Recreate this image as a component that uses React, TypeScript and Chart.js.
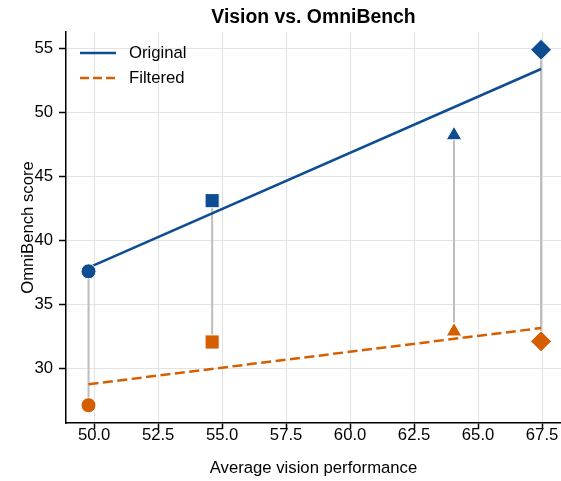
import React, { useEffect, useRef } from 'react';
import { Chart, registerables } from 'chart.js';

Chart.register(...registerables);

// ---- data ----
const models = ['Model A', 'Model B', 'Model C', 'Model D'];
const visionPerf = [49.78, 54.61, 64.06, 67.46];
const originalScores = [37.62, 43.14, 48.25, 54.93];
const filteredScores = [27.16, 32.1, 32.92, 32.15];
const xTickValues = [50, 52.5, 55, 57.5, 60, 62.5, 65, 67.5];
const yTickValues = [30, 35, 40, 45, 50, 55];
const seriesNames = ['Original', 'Filtered'];

// ---- styles ----
const BLUE = '#0F4D92';
const ORANGE = '#D55E00';
const GREY = '#bdbdbd';
const FONT = "'Liberation Sans', Arial, Helvetica, sans-serif";
const FS = 16.7;
const markerStyles = ['circle', 'rect', 'triangle', 'rectRot'];
const markerRadii = [7.5, 10, 9, 10.5];

function fit(xs: number[], ys: number[]) {
  const n = xs.length;
  const mx = xs.reduce((a, b) => a + b, 0) / n;
  const my = ys.reduce((a, b) => a + b, 0) / n;
  let sxy = 0;
  let sxx = 0;
  for (let i = 0; i < n; i++) {
    sxy += (xs[i] - mx) * (ys[i] - my);
    sxx += (xs[i] - mx) * (xs[i] - mx);
  }
  const slope = sxy / sxx;
  const x0 = Math.min(...xs);
  const x1 = Math.max(...xs);
  return [
    { x: x0, y: my + slope * (x0 - mx) },
    { x: x1, y: my + slope * (x1 - mx) },
  ];
}

const legendPlugin = {
  id: 'innerLegend',
  afterDraw(chart: any) {
    const { ctx, chartArea } = chart;
    const x0 = chartArea.left + 14;
    const items = [
      { label: seriesNames[0], color: BLUE, dash: [] as number[], y: chartArea.top + 21 },
      { label: seriesNames[1], color: ORANGE, dash: [9, 4], y: chartArea.top + 46 },
    ];
    ctx.save();
    items.forEach((it) => {
      ctx.beginPath();
      ctx.setLineDash(it.dash);
      ctx.strokeStyle = it.color;
      ctx.lineWidth = 2.5;
      ctx.moveTo(x0, it.y);
      ctx.lineTo(x0 + 36, it.y);
      ctx.stroke();
      ctx.setLineDash([]);
      ctx.fillStyle = '#000';
      ctx.font = `${FS}px ${FONT}`;
      ctx.textBaseline = 'middle';
      ctx.textAlign = 'left';
      ctx.fillText(it.label, x0 + 49, it.y);
    });
    ctx.restore();
  },
};

export default function App() {
  const ref = useRef<HTMLCanvasElement | null>(null);

  useEffect(() => {
    if (!ref.current) return;
    const connectors = models.map((m, i) => ({
      label: `${m} shift`,
      data: [
        { x: visionPerf[i], y: originalScores[i] },
        { x: visionPerf[i], y: filteredScores[i] },
      ],
      showLine: true,
      borderColor: GREY,
      borderWidth: 2,
      pointRadius: 0,
      order: 3,
    }));
    const origPts = visionPerf.map((x, i) => ({ x, y: originalScores[i] }));
    const filtPts = visionPerf.map((x, i) => ({ x, y: filteredScores[i] }));

    const chart = new Chart(ref.current, {
      type: 'scatter',
      data: {
        datasets: [
          ...connectors,
          {
            label: seriesNames[0] + ' fit',
            data: fit(visionPerf, originalScores),
            showLine: true,
            borderColor: BLUE,
            borderWidth: 2.5,
            pointRadius: 0,
            order: 2,
          },
          {
            label: seriesNames[1] + ' fit',
            data: fit(visionPerf, filteredScores),
            showLine: true,
            borderColor: ORANGE,
            borderWidth: 2.5,
            borderDash: [10, 4.5],
            pointRadius: 0,
            order: 2,
          },
          {
            label: seriesNames[0],
            data: origPts,
            backgroundColor: BLUE,
            borderColor: '#ffffff',
            borderWidth: 1,
            pointStyle: markerStyles as any,
            pointRadius: markerRadii,
            order: 0,
          },
          {
            label: seriesNames[1],
            data: filtPts,
            backgroundColor: ORANGE,
            borderColor: '#ffffff',
            borderWidth: 1,
            pointStyle: markerStyles as any,
            pointRadius: markerRadii,
            order: 0,
          },
        ] as any,
      },
      options: {
        responsive: false,
        animation: false,
        events: [],
        layout: { padding: 0, autoPadding: false },
        plugins: {
          legend: { display: false },
          tooltip: { enabled: false },
          title: {
            display: true,
            fullSize: false,
            text: 'Vision vs. OmniBench',
            color: '#000',
            font: { family: FONT, size: 19.4, weight: 'bold' },
            padding: { top: 6.2, bottom: 2.5 },
          },
        },
        scales: {
          x: {
            type: 'linear',
            min: 48.9,
            max: 68.24,
            afterBuildTicks: (s: any) => {
              s.ticks = xTickValues.map((v) => ({ value: v }));
            },
            afterFit: (s: any) => {
              s.height = 58;
              s.paddingLeft = 0;
              s.paddingRight = 0;
            },
            ticks: {
              callback: (v: any) => Number(v).toFixed(1),
              color: '#000',
              font: { family: FONT, size: FS },
              padding: -4,
              maxRotation: 0,
              autoSkip: false,
            },
            grid: {
              color: '#e3e3e3',
              lineWidth: 1,
              tickColor: '#000',
              tickLength: 6,
              tickWidth: 1.5,
            },
            border: { display: true, color: '#000', width: 1.5 },
            title: {
              display: true,
              text: 'Average vision performance',
              color: '#000',
              font: { family: FONT, size: FS },
              padding: { top: 0, bottom: 2.5 },
            },
          },
          y: {
            type: 'linear',
            min: 25.77,
            max: 56.32,
            afterBuildTicks: (s: any) => {
              s.ticks = yTickValues.map((v) => ({ value: v }));
            },
            afterFit: (s: any) => {
              s.width = 66;
              s.paddingTop = 0;
              s.paddingBottom = 0;
            },
            ticks: {
              callback: (v: any) => String(v),
              color: '#000',
              font: { family: FONT, size: FS },
              padding: 6,
            },
            grid: {
              color: '#e3e3e3',
              lineWidth: 1,
              tickColor: '#000',
              tickLength: 7,
              tickWidth: 1.5,
            },
            border: { display: true, color: '#000', width: 1.5 },
            title: {
              display: true,
              text: 'OmniBench score',
              color: '#000',
              font: { family: FONT, size: FS },
              padding: { top: 18, bottom: 0 },
            },
          },
        },
      },
      plugins: [legendPlugin],
    } as any);
    return () => chart.destroy();
  }, []);

  return (
    <div style={{ position: 'absolute', left: 0, top: 0, width: 561, height: 481, background: '#fff' }}>
      <canvas ref={ref} width={561} height={481} style={{ width: 561, height: 481, display: 'block' }} />
    </div>
  );
}
